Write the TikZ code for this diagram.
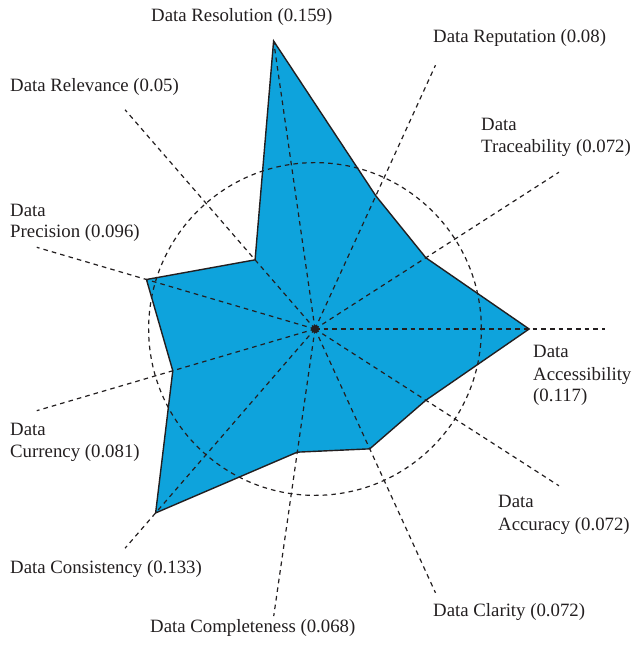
\documentclass[tikz,border=0pt]{standalone}
\usepackage{fontspec}
\setmainfont{Liberation Serif}
\definecolor{fillblue}{HTML}{0EA3DC}
\definecolor{ink}{HTML}{231F20}
\begin{document}
\begin{tikzpicture}[x=1pt,y=1pt,
  axisline/.style={draw=ink, line width=1.2pt, dash pattern=on 4.6pt off 4.1pt},
  meanring/.style={draw=ink, line width=1.2pt, dash pattern=on 4.6pt off 4.1pt},
  outline/.style={draw=ink, line width=1.4pt, line join=miter},
  lab/.style={anchor=base west, inner sep=0pt, text=ink, font=\fontsize{18.8}{22}\selectfont}]
\useasboundingbox (0,0) rectangle (636,648);
\coordinate (c) at (315,319);
\def\S{1830}
\foreach \n/\v [count=\i from 0] in {acc/0.117, tra/0.072, rep/0.08, res/0.159, rel/0.05, pre/0.096, cur/0.081, con/0.133, com/0.068, cla/0.072, acu/0.072}{
  \coordinate (v\n) at ([shift={(\i*360/11:\v*\S)}]c);
  \coordinate (e\n) at ([shift={(\i*360/11:290)}]c);
}
\fill[fillblue] (vacc) -- (vtra) -- (vrep) -- (vres) -- (vrel) -- (vpre) -- (vcur) -- (vcon) -- (vcom) -- (vcla) -- (vacu) -- cycle;
\draw[meanring] (c) circle[radius=1830/11];
\foreach \n in {acc,tra,rep,res,rel,pre,cur,con,com,cla,acu}{
  \draw[axisline] (c) -- (e\n);
}
\draw[outline] (vacc) -- (vtra) -- (vrep) -- (vres) -- (vrel) -- (vpre) -- (vcur) -- (vcon) -- (vcom) -- (vcla) -- (vacu) -- cycle;
\fill[ink] (c) circle[radius=4];
% labels
\node[lab] (lres) at (151,626) {Data Resolution (0.159)};
\node[lab] (lrep) at (433,605.3) {Data Reputation (0.08)};
\node[lab] (ltra1) at (481,517) {Data};
\node[lab] (ltra2) at (481,495) {Traceability (0.072)};
\node[lab] (lacc1) at (533,290) {Data};
\node[lab] (lacc2) at (533,267.5) {Accessibility};
\node[lab] (lacc3) at (533,246) {(0.117)};
\node[lab] (lacu1) at (498,140) {Data};
\node[lab] (lacu2) at (498,117) {Accuracy (0.072)};
\node[lab] (lcla) at (433,31) {Data Clarity (0.072)};
\node[lab] (lcom) at (150,15) {Data Completeness (0.068)};
\node[lab] (lcon) at (10,74) {Data Consistency (0.133)};
\node[lab] (lcur1) at (10,212) {Data};
\node[lab] (lcur2) at (10,190) {Currency (0.081)};
\node[lab] (lpre1) at (10,431.3) {Data};
\node[lab] (lpre2) at (10,410) {Precision (0.096)};
\node[lab] (lrel) at (10,556) {Data Relevance (0.05)};
\end{tikzpicture}
\end{document}
